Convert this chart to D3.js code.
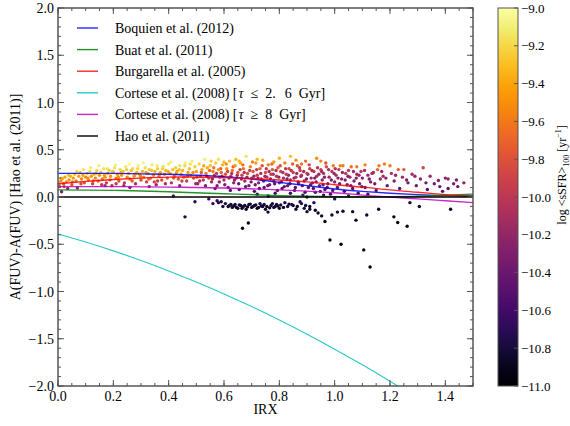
<!DOCTYPE html>
<html><head><meta charset="utf-8">
<script src="https://cdn.jsdelivr.net/npm/d3@7"></script>
<style>body{margin:0;background:#fff;}</style>
</head><body><svg id="c" width="570" height="426" font-family="Liberation Serif, Times New Roman, DejaVu Serif, serif" style="display:block"></svg>
<script>
const xTicks=[0,0.2,0.4,0.6,0.8,1.0,1.2,1.4];
const yTicks=[-2,-1.5,-1,-0.5,0,0.5,1,1.5,2];
const cbTicks=[-9,-9.2,-9.4,-9.6,-9.8,-10,-10.2,-10.4,-10.6,-10.8,-11];
const legendLabels=["Boquien et al. (2012)","Buat et al. (2011)","Burgarella et al. (2005)","Cortese et al. (2008) [τ ≤ 2. 6 Gyr]","Cortese et al. (2008) [τ ≥ 8 Gyr]","Hao et al. (2011)"];
const lineColors=["#0000ff","#008000","#ff0000","#00bfbf","#bf00bf","#000000"];
const boquien=[[0,0.25],[0.1,0.25],[0.2,0.25],[0.3,0.245],[0.4,0.24],[0.5,0.23],[0.6,0.215],[0.7,0.19],[0.8,0.155],[0.9,0.12],[1.0,0.085],[1.1,0.06],[1.2,0.04],[1.3,0.025],[1.4,0.015],[1.5,0.01]];
const buat=[[0,0.075],[0.2,0.07],[0.4,0.055],[0.6,0.035],[0.8,0.015],[1.0,0.003],[1.1,0.0],[1.2,0.002],[1.3,0.008],[1.4,0.018],[1.5,0.03]];
const burgarella=[[0,0.14],[0.1,0.165],[0.2,0.185],[0.3,0.2],[0.4,0.21],[0.5,0.21],[0.6,0.205],[0.7,0.195],[0.8,0.18],[0.9,0.16],[1.0,0.13],[1.1,0.105],[1.2,0.075],[1.3,0.05],[1.4,0.025],[1.5,0.005]];
const corteseShort=[[0,-0.39],[0.1,-0.476],[0.2,-0.57],[0.3,-0.672],[0.4,-0.782],[0.5,-0.9],[0.6,-1.026],[0.7,-1.16],[0.8,-1.302],[0.9,-1.452],[1.0,-1.61],[1.1,-1.776],[1.2,-1.95],[1.25,-2.04]];
const corteseLong=[[0,0.11],[0.2,0.11],[0.4,0.105],[0.6,0.095],[0.8,0.075],[1.0,0.045],[1.1,0.02],[1.2,0.0],[1.3,-0.02],[1.4,-0.04],[1.5,-0.06]];
const hao=[[0,0],[1.5,0]];
// galaxies: [IRX, residual A(FUV), log sSFR]
const galaxies=[
[0,0.15,-9.6],[0.005,0.12,-9.7],[0.01,0.17,-9.5],[0.013,0.056,-10.3],[0.015,0.19,-9.45],[0.02,0.14,-9.75],[0.025,0.21,-9.4],[0.03,0.16,-9.55],[0.035,0.09,-10.2],[0.04,0.18,-9.5],[0.045,0.22,-9.35],[0.05,0.13,-9.8],[0.055,0.2,-9.45],[0.06,0.24,-9.3],[0.065,0.17,-9.6],[0.07,0.095,-10.2],[0.075,0.22,-9.4],[0.08,0.26,-9.25],[0.085,0.19,-9.55],[0.09,0.23,-9.4],[0.095,0.15,-9.8],[0.1,0.21,-9.5],
[0.105,0.25,-9.3],[0.11,0.18,-9.6],[0.115,0.27,-9.2],[0.12,0.22,-9.45],[0.125,0.14,-9.9],[0.13,0.24,-9.35],[0.135,0.2,-9.55],[0.14,0.28,-9.2],[0.145,0.17,-9.75],[0.15,0.23,-9.45],[0.155,0.26,-9.3],[0.16,0.19,-9.6],[0.165,0.3,-9.15],[0.17,0.21,-9.5],[0.175,0.15,-9.95],[0.18,0.25,-9.4],[0.185,0.28,-9.25],[0.19,0.22,-9.5],[0.195,0.12,-10.1],[0.2,0.26,-9.35],[0.205,0.31,-9.15],[0.21,0.2,-9.55],[0.215,0.24,-9.45],[0.22,0.17,-9.8],[0.225,0.29,-9.2],[0.23,0.23,-9.45],[0.235,0.27,-9.3],[0.24,0.15,-10],[0.245,0.32,-9.12],[0.25,0.21,-9.55],[0.255,0.25,-9.4],[0.26,0.19,-9.7],[0.265,0.28,-9.3],[0.27,0.3,-9.2],[0.275,0.22,-9.5],[0.28,0.14,-10.1],[0.285,0.26,-9.38],[0.29,0.33,-9.1],[0.295,0.24,-9.45],[0.3,0.18,-9.8],
[0.305,0.27,-9.35],[0.31,0.21,-9.55],[0.315,0.31,-9.18],[0.32,0.16,-9.95],[0.325,0.25,-9.42],[0.33,0.29,-9.28],[0.335,0.2,-9.65],[0.34,0.34,-9.1],[0.345,0.23,-9.5],[0.35,0.27,-9.35],[0.355,0.13,-10.15],[0.36,0.3,-9.25],[0.365,0.22,-9.6],[0.37,0.26,-9.4],[0.375,0.18,-9.85],[0.38,0.32,-9.18],[0.385,0.24,-9.48],[0.39,0.28,-9.33],[0.395,0.2,-9.7],[0.4,0.35,-9.12],[0.405,0.25,-9.45],[0.41,0.15,-10.05],[0.415,0.29,-9.3],[0.417,0.01,-10.5],[0.42,0.22,-9.6],[0.425,0.31,-9.22],[0.43,0.27,-9.38],[0.435,0.19,-9.8],[0.44,0.33,-9.15],[0.445,0.24,-9.5],[0.45,0.28,-9.35],[0.455,0.21,-9.7],[0.459,-0.21,-10.8],[0.46,0.36,-9.1],[0.465,0.17,-9.95],[0.47,0.26,-9.45],[0.475,0.3,-9.3],[0.48,0.23,-9.6],[0.485,0.38,-9.1],[0.49,0.2,-9.85],[0.495,-0.05,-10.7],[0.495,0.32,-9.25],[0.5,0.27,-9.42],
[0.505,0.14,-10.2],[0.51,0.35,-9.2],[0.515,0.22,-9.75],[0.52,0.29,-9.4],[0.525,0.18,-10],[0.53,0.4,-9.1],[0.535,0.25,-9.6],[0.54,0.31,-9.35],[0.545,-0.02,-10.6],[0.545,0.2,-9.9],[0.55,0.33,-9.3],[0.555,0.16,-10.1],[0.56,0.27,-9.55],[0.56,-0.07,-10.7],[0.565,0.23,-9.85],[0.57,0.36,-9.25],[0.575,-0.04,-10.65],[0.575,0.12,-10.3],[0.58,0.29,-9.5],[0.58,-0.06,-10.7],[0.585,0.21,-9.95],[0.59,0.26,-9.7],[0.59,-0.05,-10.75],[0.595,0.34,-9.35],[0.596,-0.1,-10.8],[0.6,0.18,-10.05],[0.605,0.24,-9.8],[0.61,0.3,-9.5],[0.615,0.1,-10.4],[0.62,0.38,-9.3],[0.62,-0.09,-10.8],[0.625,0.22,-9.95],[0.63,0.28,-9.65],[0.63,-0.11,-10.85],[0.635,0.15,-10.2],[0.64,0.33,-9.45],[0.64,-0.08,-10.8],[0.645,0.2,-10.05],[0.65,0.26,-9.8],[0.65,-0.12,-10.85],[0.655,0.08,-10.5],[0.66,0.36,-9.4],[0.66,-0.09,-10.9],[0.665,0.23,-9.95],[0.667,-0.33,-10.9],[0.67,0.3,-9.6],[0.67,-0.1,-10.8],[0.675,0.17,-10.15],[0.68,0.43,-9.15],[0.68,-0.13,-10.85],[0.685,0.25,-9.85],[0.688,-0.275,-10.9],[0.69,0.12,-10.35],[0.69,-0.08,-10.8],[0.695,0.32,-9.55],[0.7,0.2,-10.05],[0.7,-0.11,-10.85],
[0.705,0.27,-9.8],[0.71,0.06,-10.55],[0.71,-0.09,-10.8],[0.715,0.36,-9.45],[0.72,0.23,-9.95],[0.72,-0.12,-10.9],[0.725,0.15,-10.25],[0.73,0.3,-9.7],[0.73,-0.07,-10.75],[0.735,0.19,-10.1],[0.74,0.39,-9.4],[0.74,-0.1,-10.85],[0.745,0.1,-10.45],[0.75,0.26,-9.85],[0.75,-0.13,-10.9],[0.755,0.21,-10.05],[0.759,-0.16,-10.85],[0.76,0.34,-9.6],[0.765,0.13,-10.35],[0.77,0.24,-9.95],[0.77,-0.09,-10.8],[0.775,0.29,-9.8],[0.78,0.17,-10.2],[0.78,-0.11,-10.85],[0.785,0.04,-10.6],[0.79,0.22,-10.05],[0.79,-0.08,-10.8],[0.795,0.31,-9.75],[0.8,0.15,-10.3],[0.8,-0.12,-10.85],[0.805,0.27,-9.9],[0.81,0.09,-10.5],[0.815,0.2,-10.1],[0.82,0.36,-9.55],[0.82,-0.06,-10.75],[0.825,0.24,-10],[0.83,0.12,-10.4],[0.83,-0.1,-10.8],[0.835,0.3,-9.85],[0.84,0.43,-9.3],[0.84,0.18,-10.2],[0.845,-0.08,-10.75],[0.85,0.26,-9.95],[0.855,0.07,-10.55],[0.86,0.21,-10.1],[0.86,-0.13,-10.85],[0.865,0.33,-9.8],[0.87,0.14,-10.35],[0.875,0.28,-9.9],[0.875,-0.05,-10.7],[0.88,0.23,-10.05],[0.885,0.02,-10.6],[0.89,0.17,-10.25],[0.89,-0.12,-10.8],[0.895,0.38,-9.65],[0.9,0.25,-10],[0.9,-0.155,-10.85],
[0.905,0.1,-10.45],[0.91,0.3,-9.9],[0.91,-0.13,-10.8],[0.915,0.2,-10.15],[0.92,0.15,-10.3],[0.925,0.27,-10],[0.93,0.05,-10.55],[0.93,-0.14,-10.85],[0.935,0.41,-9.5],[0.935,0.22,-10.1],[0.94,-0.17,-10.85],[0.945,0.12,-10.4],[0.95,0.29,-9.95],[0.953,-0.2,-10.9],[0.955,0.18,-10.25],[0.96,0.25,-10.05],[0.965,-0.26,-10.9],[0.965,0.08,-10.5],[0.97,0.32,-9.85],[0.975,0.14,-10.35],[0.98,0.21,-10.15],[0.983,-0.455,-10.95],[0.985,0.03,-10.6],[0.99,-0.19,-10.85],[0.99,0.27,-10],[0.995,0.33,-9.6],[1,0.16,-10.3],[1.005,0.23,-10.1],[1.01,-0.16,-10.85],[1.01,0.1,-10.45],[1.015,0.29,-9.95],[1.02,0.33,-9.55],[1.023,-0.5,-10.95],[1.025,0.19,-10.2],[1.03,-0.15,-10.8],[1.03,0.33,-9.6],[1.035,0.06,-10.55],[1.04,0.25,-10.05],[1.045,0.13,-10.4],[1.05,0.28,-10],[1.055,0.21,-10.15],[1.06,0.32,-9.65],[1.065,-0.155,-10.85],[1.065,0.09,-10.5],[1.07,0.17,-10.3],[1.077,-0.245,-10.9],[1.08,0.32,-9.6],[1.08,0.24,-10.1],[1.085,0.04,-10.6],[1.09,0.14,-10.35],[1.095,0.27,-10],[1.1,0.2,-10.2],
[1.105,-0.56,-10.95],[1.11,0.34,-9.55],[1.11,0.1,-10.45],[1.116,-0.19,-10.85],[1.12,0.23,-10.1],[1.128,-0.74,-11],[1.13,0.16,-10.3],[1.14,0.26,-10.05],[1.15,0.07,-10.5],[1.155,0.29,-9.7],[1.159,-0.13,-10.85],[1.16,0.33,-9.6],[1.165,0.19,-10.2],[1.175,0.22,-10.1],[1.18,0.35,-9.55],[1.19,0.12,-10.4],[1.2,0.33,-9.6],[1.205,0.25,-10.05],[1.214,-0.21,-10.9],[1.215,0.17,-10.3],[1.228,-0.27,-10.9],[1.23,0.29,-9.7],[1.235,0.09,-10.5],[1.245,0.21,-10.15],[1.25,0.29,-9.75],[1.262,-0.31,-10.9],[1.265,0.15,-10.35],[1.272,-0.06,-10.8],[1.28,0.24,-10.1],[1.295,0.12,-10.4],[1.306,-0.1,-10.85],[1.31,0.19,-10.2],[1.32,0.31,-9.9],[1.335,0.08,-10.5],[1.345,0.22,-10.15],[1.36,0.14,-10.35],[1.375,0.175,-10.25],[1.39,0.06,-10.55],[1.41,0.19,-10.2],[1.41,0.09,-10.45],[1.419,-0.13,-10.85],[1.43,0.14,-10.3],[1.445,0.11,-10.4],[1.467,0.15,-10.25],
[0.012,0.2,-9.4],[0.022,0.11,-9.9],[0.038,0.23,-9.3],[0.052,0.16,-9.65],[0.068,0.27,-9.2],[0.083,0.14,-9.85],[0.092,0.29,-9.15],[0.108,0.2,-9.5],[0.118,0.31,-9.1],[0.127,0.17,-9.7],[0.138,0.25,-9.35],[0.148,0.33,-9.1],[0.158,0.13,-10],[0.168,0.23,-9.45],[0.178,0.3,-9.15],[0.188,0.18,-9.65],[0.198,0.27,-9.3],[0.208,0.34,-9.08],[0.218,0.21,-9.5],[0.228,0.26,-9.35],[0.238,0.12,-10.2],[0.248,0.29,-9.25],[0.258,0.35,-9.05],[0.268,0.17,-9.75],[0.278,0.24,-9.45],[0.288,0.3,-9.2],[0.298,0.22,-9.55],[0.308,0.36,-9.06],[0.318,0.26,-9.4],[0.328,0.19,-9.7],[0.338,0.28,-9.3],[0.348,0.16,-9.9],[0.358,0.33,-9.12],[0.368,0.24,-9.5],[0.378,0.3,-9.25],[0.388,0.14,-10.1],[0.398,0.27,-9.4],[0.408,0.37,-9.08],[0.418,0.2,-9.75],[0.428,0.25,-9.5],[0.438,0.29,-9.3],[0.448,0.17,-9.9],[0.458,0.33,-9.2],[0.468,0.22,-9.7],[0.478,0.35,-9.15],[0.488,0.26,-9.5],[0.498,0.14,-10.15],[0.17,0.12,-10.15],[0.26,0.1,-10.3],[0.33,0.11,-10.25],[0.44,0.12,-10.2],[0.36,0.17,-9.95],[0.21,0.14,-10],
[0.502,0.21,-9.9],[0.512,0.17,-10.1],[0.518,0.26,-9.75],[0.527,0.33,-9.4],[0.533,0.12,-10.3],[0.538,0.22,-10],[0.548,0.28,-9.7],[0.553,0.38,-9.25],[0.558,0.19,-10.15],[0.563,0.31,-9.6],[0.568,0.09,-10.45],[0.573,0.25,-9.95],[0.583,0.16,-10.2],[0.588,0.3,-9.75],[0.593,0.22,-10.1],[0.603,0.13,-10.3],[0.608,0.35,-9.5],[0.613,0.27,-9.9],[0.618,0.2,-10.15],[0.623,0.07,-10.5],[0.628,0.25,-10.05],[0.633,0.32,-9.7],[0.638,0.18,-10.25],[0.643,0.4,-9.3],[0.648,0.23,-10.1],[0.653,0.14,-10.35],[0.658,0.29,-9.9],[0.663,0.19,-10.2],[0.668,0.34,-9.65],[0.673,0.26,-10.05],[0.678,0.11,-10.4],[0.683,0.21,-10.15],[0.693,0.28,-9.95],[0.698,0.16,-10.3],[0.703,0.37,-9.55],[0.708,0.22,-10.2],[0.713,0.13,-10.4],[0.718,0.29,-10],[0.723,0.2,-10.25],[0.728,0.09,-10.5],[0.733,0.25,-10.1],[0.738,0.33,-9.8],[0.743,0.17,-10.3],[0.748,0.22,-10.2],[0.753,0.3,-9.95],[0.758,0.12,-10.4],[0.763,0.27,-10.1],[0.768,0.19,-10.3],[0.773,0.35,-9.7],[0.778,0.24,-10.15],[0.783,0.14,-10.4],[0.788,0.28,-10.05],[0.793,0.07,-10.5],[0.798,0.21,-10.25],[0.803,0.33,-9.85],[0.808,0.16,-10.35],[0.813,0.26,-10.1],[0.818,0.11,-10.45],[0.823,0.3,-10],[0.828,0.19,-10.3],[0.833,0.23,-10.2],[0.838,0.14,-10.4],[0.843,0.28,-10.05],[0.848,0.35,-9.75],[0.853,0.2,-10.25],[0.858,0.1,-10.5],[0.863,0.25,-10.15],[0.868,0.16,-10.35],[0.873,0.31,-10],[0.878,0.22,-10.25],[0.883,0.12,-10.45],[0.888,0.27,-10.1],[0.893,0.05,-10.55],[0.898,0.19,-10.3],[0.903,0.24,-10.2],[0.908,0.34,-9.9],[0.913,0.13,-10.4],[0.918,0.28,-10.1],[0.923,0.09,-10.5],[0.928,0.2,-10.3],[0.933,0.16,-10.35],[0.938,0.31,-10],[0.943,0.24,-10.2],[0.948,0.06,-10.55],[0.953,0.27,-10.15],[0.958,0.13,-10.4],[0.963,0.21,-10.25],[0.968,0.36,-9.8],[0.973,0.1,-10.45],[0.978,0.29,-10.1],[0.988,0.18,-10.3],[0.993,0.07,-10.5],[0.998,0.25,-10.2],
[0.605,-0.07,-10.75],[0.615,-0.1,-10.85],[0.625,-0.08,-10.8],[0.635,-0.095,-10.85],[0.645,-0.11,-10.9],[0.655,-0.085,-10.8],[0.665,-0.12,-10.9],[0.675,-0.09,-10.85],[0.685,-0.105,-10.9],[0.695,-0.075,-10.8],[0.705,-0.1,-10.85],[0.715,-0.085,-10.8],[0.725,-0.11,-10.9],[0.735,-0.095,-10.85],[0.745,-0.08,-10.8],[0.755,-0.1,-10.85],[0.765,-0.115,-10.9],[0.775,-0.07,-10.75],[0.785,-0.1,-10.85],[0.795,-0.095,-10.85],[0.805,-0.085,-10.8],[0.815,-0.11,-10.9],[0.835,-0.075,-10.8],[0.85,-0.09,-10.85],[0.865,-0.1,-10.85],[0.88,-0.07,-10.75],[0.895,-0.09,-10.8],[0.91,-0.1,-10.85],[0.925,-0.06,-10.75],
[0.72,0.03,-10.6],[0.76,0.01,-10.65],[0.84,0.04,-10.6],[0.9,0,-10.7],[0.96,0.02,-10.65],[1,-0.02,-10.7],[1.05,0.01,-10.65],[1.12,0.03,-10.6],
[1.002,0.3,-10.05],[1.012,0.2,-10.25],[1.018,0.14,-10.35],[1.028,0.26,-10.15],[1.038,0.18,-10.3],[1.048,0.22,-10.25],[1.058,0.12,-10.4],[1.068,0.27,-10.15],[1.078,0.2,-10.3],[1.088,0.23,-10.2],[1.098,0.11,-10.45],[1.108,0.28,-10.1],[1.125,0.19,-10.3],[1.135,0.25,-10.2],[1.145,0.14,-10.35],[1.17,0.27,-10.15],[1.185,0.2,-10.25],[1.22,0.23,-10.2],[1.26,0.18,-10.3],[1.29,0.22,-10.2],[1.33,0.15,-10.35],[1.38,0.11,-10.4],[1.4,0.2,-10.25],[1.44,0.18,-10.3],
[0.58,0.4,-9.15],[0.6,0.37,-9.3],[0.655,0.38,-9.35],[0.72,0.4,-9.3],[0.78,0.37,-9.45],[0.8,0.41,-9.35],[0.86,0.39,-9.5],[0.88,0.35,-9.6],[0.95,0.38,-9.55]
];

const svg=d3.select("#c");
const L=58,R=473,T=8,B=386;
const x=d3.scaleLinear().domain([0,1.5]).range([L,R]);
const y=d3.scaleLinear().domain([-2,2]).range([B,T]);
const cmin=-11,cmax=-9;
const color=d3.scaleSequential(d3.interpolateInferno).domain([cmin,cmax]);
const fmt=d3.format(".1f");

svg.append("defs").append("clipPath").attr("id","clip").append("rect").attr("x",L).attr("y",T).attr("width",R-L).attr("height",B-T);
const plot=svg.append("g").attr("clip-path","url(#clip)");

const pts=galaxies.slice().sort((a,b)=>a[2]-b[2]);
plot.selectAll("circle").data(pts).enter().append("circle")
 .attr("cx",d=>x(d[0])).attr("cy",d=>y(d[1])).attr("r",1.7)
 .attr("fill",d=>color(d[2]));

const curves=[boquien,buat,burgarella,corteseShort,corteseLong,hao];
const line=d3.line().x(d=>x(d[0])).y(d=>y(d[1])).curve(d3.curveNatural);
curves.forEach((c,i)=>{
 plot.append("path").attr("d",line(c)).attr("fill","none").attr("stroke",lineColors[i])
  .attr("stroke-width",i===3?1.1:1.4).attr("stroke-opacity",i===5?1:0.85);
});

const frame="#555";
const ax=svg.append("g").attr("font-size",14);
function ticks(scale,vals,minorStep,horiz){
 const d=scale.domain();
 const minor=d3.range(Math.round(d[0]/minorStep),Math.round(d[1]/minorStep)+1).map(k=>k*minorStep);
 minor.forEach(v=>{
  const p=scale(v);
  if(horiz){
   ax.append("line").attr("x1",p).attr("x2",p).attr("y1",B).attr("y2",B-3).attr("stroke",frame);
   ax.append("line").attr("x1",p).attr("x2",p).attr("y1",T).attr("y2",T+3).attr("stroke",frame);
  } else {
   ax.append("line").attr("y1",p).attr("y2",p).attr("x1",L).attr("x2",L+3).attr("stroke",frame);
   ax.append("line").attr("y1",p).attr("y2",p).attr("x1",R).attr("x2",R-3).attr("stroke",frame);
  }
 });
 vals.forEach(v=>{
  const p=scale(v);
  if(horiz){
   ax.append("line").attr("x1",p).attr("x2",p).attr("y1",B).attr("y2",B-6).attr("stroke",frame);
   ax.append("line").attr("x1",p).attr("x2",p).attr("y1",T).attr("y2",T+6).attr("stroke",frame);
   ax.append("text").attr("x",p).attr("y",B+15).attr("text-anchor","middle").text(fmt(v));
  } else {
   ax.append("line").attr("y1",p).attr("y2",p).attr("x1",L).attr("x2",L+6).attr("stroke",frame);
   ax.append("line").attr("y1",p).attr("y2",p).attr("x1",R).attr("x2",R-6).attr("stroke",frame);
   ax.append("text").attr("x",L-4).attr("y",p+5).attr("text-anchor","end").text(fmt(v));
  }
 });
}
ticks(x,xTicks,0.05,true);
ticks(y,yTicks,0.1,false);
svg.append("rect").attr("x",L).attr("y",T).attr("width",R-L).attr("height",B-T).attr("fill","none").attr("stroke",frame).attr("stroke-width",1.5);

svg.append("text").attr("x",(L+R)/2).attr("y",414).attr("text-anchor","middle").attr("font-size",14).text("IRX");
svg.append("text").attr("transform",`translate(20,${(T+B)/2}) rotate(-90)`).attr("text-anchor","middle").attr("font-size",14).text("A(FUV)-A(FUV) [Hao et al. (2011)]");

const lg=svg.append("g").attr("font-size",14);
legendLabels.forEach((t,i)=>{
 const yy=28+i*21.6;
 lg.append("line").attr("x1",77).attr("x2",98).attr("y1",yy).attr("y2",yy).attr("stroke",lineColors[i]).attr("stroke-width",1.4).attr("stroke-opacity",i===5?1:0.85);
 const tx=lg.append("text").attr("x",115).attr("y",yy+5);
 const k=t.indexOf("[");
 if(k>=0){
  tx.append("tspan").text(t.slice(0,k+1));
  t.slice(k+1).split(" ").forEach((tok,j)=>{
   const ts=tx.append("tspan").attr("dx",j===0?1:(tok==="6"?9:7)).text(tok);
   if(tok==="τ") ts.attr("font-style","italic");
  });
 } else tx.text(t);
});

const cbX=498,cbW=20;
const cy=d3.scaleLinear().domain([cmin,cmax]).range([B,T]);
const grad=svg.select("defs").append("linearGradient").attr("id","cbg").attr("x1",0).attr("y1",1).attr("x2",0).attr("y2",0);
d3.range(0,1.0001,0.05).forEach(f=>grad.append("stop").attr("offset",f).attr("stop-color",color(cmin+f*(cmax-cmin))));
svg.append("rect").attr("x",cbX).attr("y",T).attr("width",cbW).attr("height",B-T).attr("fill","url(#cbg)").attr("stroke",frame).attr("stroke-width",1);
const cg=svg.append("g").attr("font-size",13);
cbTicks.forEach(v=>{
 const p=cy(v);
 cg.append("line").attr("x1",cbX+cbW).attr("x2",cbX+cbW-4).attr("y1",p).attr("y2",p).attr("stroke",frame);
 cg.append("text").attr("x",cbX+cbW+3).attr("y",p+4.5).text(fmt(v));
});
const cl=svg.append("text").attr("transform",`translate(566,175) rotate(-90)`).attr("text-anchor","middle").attr("font-size",12);
cl.append("tspan").text("log <sSFR>");
cl.append("tspan").attr("font-size",8).attr("dy",3).text("100");
cl.append("tspan").attr("dy",-3).text(" [yr");
cl.append("tspan").attr("font-size",8).attr("dy",-5).text("−1");
cl.append("tspan").attr("dy",5).text("]");
</script></body></html>
